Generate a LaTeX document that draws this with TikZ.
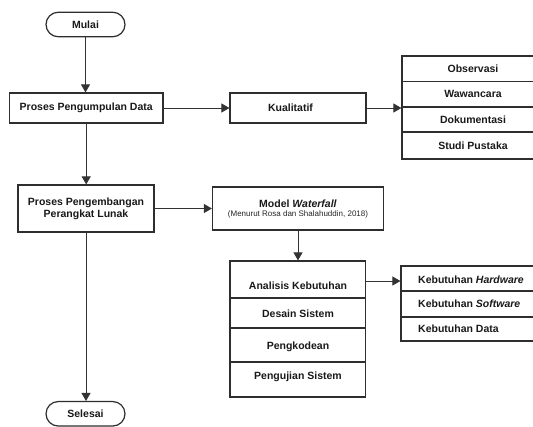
\documentclass[tikz,border=0pt]{standalone}
\usepackage{fontspec}
\setmainfont{Liberation Sans}
\usetikzlibrary{arrows.meta,shapes.misc}
\begin{document}
\begin{tikzpicture}[x=1pt,y=-1pt,
  every node/.style={font=\fontsize{10.5}{12}\selectfont\bfseries, text=black!90, inner sep=0pt},
  frame/.style={draw=black!82, line width=1.2pt, rectangle},
  term/.style={frame, rounded rectangle, minimum width=79pt, minimum height=24.5pt},
  conn/.style={draw=black!80, line width=0.9pt, -{Triangle[length=8pt,width=9pt]}},
  small/.style={font=\fontsize{8}{9}\selectfont, text=black!85},
]
\clip (0,0) rectangle (533,426);
\fill[white] (0,0) rectangle (533,426);

% main column
\node[term] (mulai) at (85.5,24.5) {Mulai};
\node[frame, minimum width=153.7pt, minimum height=30pt] (p1) at (86.2,108) {Proses Pengumpulan Data};
\node[frame, minimum width=136pt, minimum height=47pt, align=center] (p2) at (86,208.5) {Proses Pengembangan\\Perangkat Lunak};
\node[term] (selesai) at (85.5,413.8) {Selesai};

% Kualitatif
\node[frame, minimum width=136pt, minimum height=30pt] (kual) at (298,108) {};
\node (kualt) at (290.5,108) {Kualitatif};

% data collection list
\node[frame, minimum width=142pt, minimum height=25.5pt] (obs) at (473,68.75) {Observasi};
\node[frame, minimum width=142pt, minimum height=25.5pt] (waw) at (473,94.25) {Wawancara};
\node[frame, minimum width=142pt, minimum height=25pt] (dok) at (473,119.5) {Dokumentasi};
\node[frame, minimum width=142pt, minimum height=27pt] (stu) at (473,145.5) {Studi Pustaka};

% Model waterfall
\node[frame, minimum width=171pt, minimum height=43pt] (model) at (298,208.5) {};
\node (modelt) at (298,204) {Model \textit{Waterfall}};
\node[small] (modelc) at (298,214.8) {(Menurut Rosa dan Shalahuddin, 2018)};

% waterfall stages
\node[frame, minimum width=135.3pt, minimum height=37pt] (ana) at (297.7,279.5) {};
\node[frame, minimum width=135.3pt, minimum height=30pt] (des) at (297.7,313) {};
\node[frame, minimum width=135.3pt, minimum height=34pt] (kod) at (297.7,345) {};
\node[frame, minimum width=135.3pt, minimum height=35pt] (uji) at (297.7,379.5) {};
\node (anat) at (298,285.7) {Analisis Kebutuhan};
\node (dest) at (298,313.3) {Desain Sistem};
\node (kodt) at (298,346.7) {Pengkodean};
\node (ujit) at (298,376.7) {Pengujian Sistem};

% needs list
\node[frame, minimum width=144pt, minimum height=25pt] (hw) at (473,278.5) {};
\node[frame, minimum width=144pt, minimum height=26pt] (sw) at (473,304) {};
\node[frame, minimum width=144pt, minimum height=24pt] (dt) at (473,329) {};
\node[anchor=west] (hwt) at (418,279.3) {Kebutuhan \textit{Hardware}};
\node[anchor=west] (swt) at (418,304) {Kebutuhan \textit{Software}};
\node[anchor=west] (dtt) at (418,328.5) {Kebutuhan Data};

% connectors
\draw[conn] (mulai.south) -- (mulai.south |- p1.north);
\draw[conn] (p1.south) -- (p1.south |- p2.north);
\draw[conn] (p2.south) -- (p2.south |- selesai.north);
\draw[conn] (p1.east) -- (p1.east -| kual.west);
\draw[conn] (kual.east) -- (kual.east -| obs.west);
\draw[conn] (p2.east) -- (p2.east -| model.west);
\draw[conn] (model.south) -- (model.south |- ana.north);
\coordinate (a1) at ([yshift=-1.5pt]ana.east);
\draw[conn] (a1) -- (a1 -| hw.west);
\end{tikzpicture}
\end{document}
